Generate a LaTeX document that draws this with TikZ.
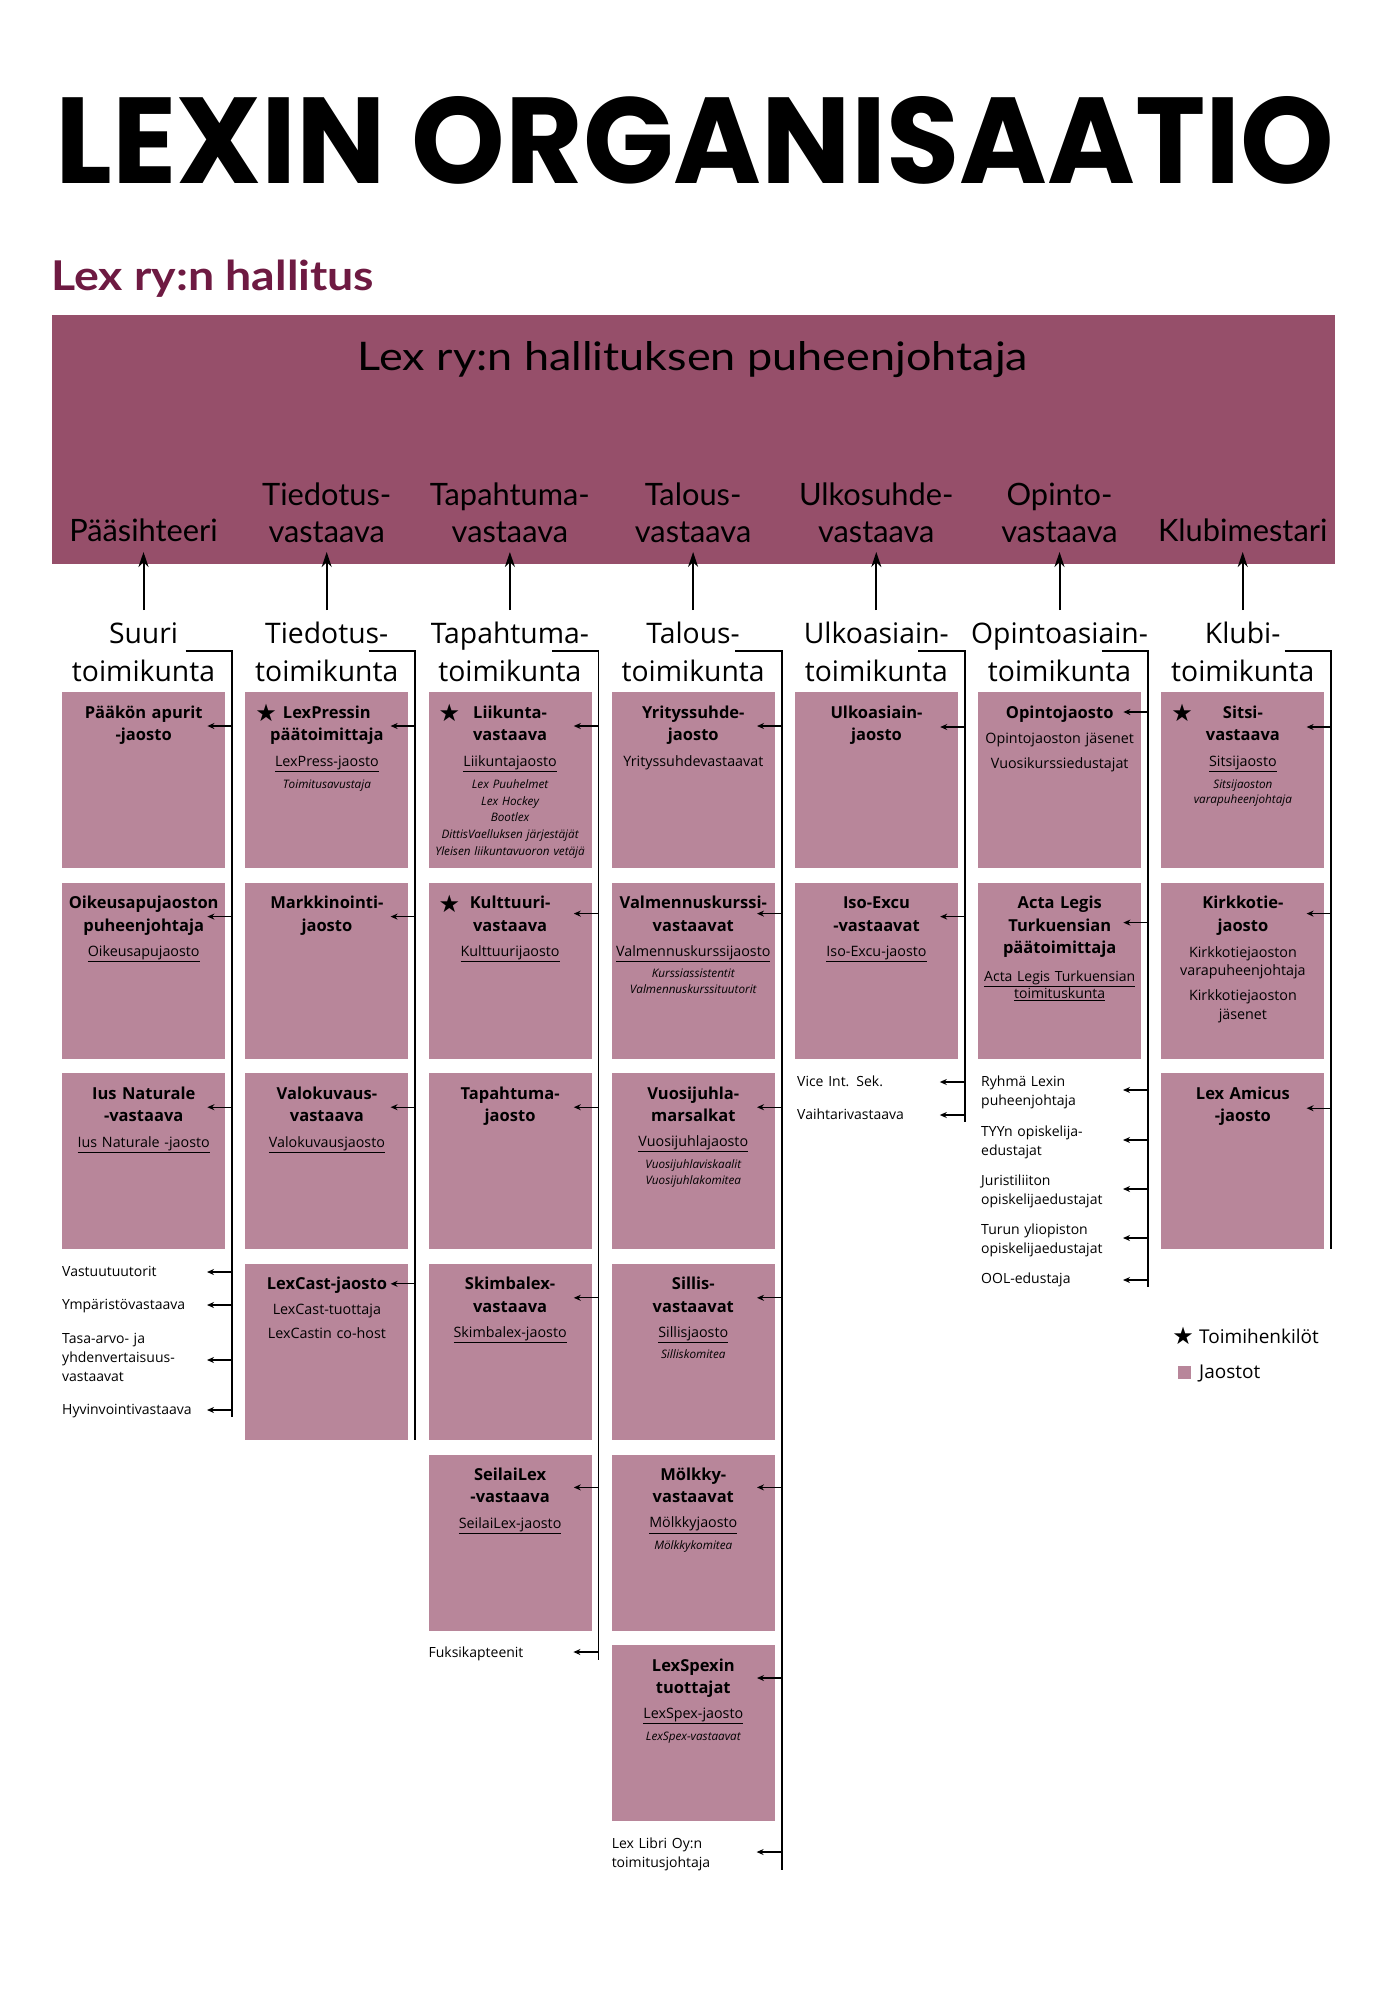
\documentclass[tikz,border=0pt]{standalone}
\usepackage{graphicx}
\usepackage{fontspec}
\setmainfont{Open Sans}
\newfontfamily\lato{Lato}
\newfontfamily\pop{Poppins}
\newfontfamily\dejavu{DejaVu Sans}
\usetikzlibrary{arrows.meta,calc}
\definecolor{boardc}{RGB}{150,79,106}
\definecolor{boxc}{RGB}{184,134,154}
\definecolor{subc}{RGB}{110,26,66}
\newcommand\und[1]{\underline{#1}}
\newcommand\jb[3]{\node[jbox] (#1) at (#2,#3) {};}
\newcommand\jt[4]{\node[#2] at ($(#1.north)+(0,#3)$) {#4};}
\newcommand\ja[2]{\draw[arr] ($(#1.north east)+(7,#2)$) -- ($(#1.north east)+(-18,#2)$);}
\newcommand\js[1]{\node[starnode] at ($(#1.north west)+(21,21)$) {★};}
\newcommand\fa[2]{\draw[arr] (#1,#2) -- ($(#1,#2)+(-25,0)$);}
\tikzset{
 jbox/.style={fill=boxc, minimum width=163pt, minimum height=176pt, inner sep=0pt, anchor=north west, draw=none},
 txt/.style={text width=175pt, align=center, inner sep=0pt, anchor=base},
 ttl/.style={txt, font=\bfseries\fontsize{16.5}{22.5}\selectfont},
 und/.style={txt, font=\fontsize{14.3}{15.5}\selectfont},
 itl/.style={txt, font=\itshape\fontsize{11.7}{16}\selectfont},
 reg/.style={txt, font=\fontsize{14.3}{18.7}\selectfont},
 free/.style={text width=170pt, align=left, inner sep=0pt, anchor=base west, font=\fontsize{14}{19}\selectfont},
 arr/.style={-{Stealth[length=7pt,width=6pt]}, line width=1.3pt},
 barr/.style={-{Stealth[length=15pt,width=10pt]}, line width=2pt},
 bus/.style={line width=1.8pt},
 starnode/.style={font=\dejavu\fontsize{24}{24}\selectfont, inner sep=0pt},
 kom/.style={text width=200pt, align=center, inner sep=0pt, anchor=base, font=\fontsize{28.3}{38.7}\selectfont},
 brd/.style={text width=180pt, align=center, inner sep=0pt, anchor=base, font=\lato\fontsize{30.8}{37}\selectfont},
}
\begin{document}
\begin{tikzpicture}[x=1pt,y=-1pt]
\useasboundingbox (0,0) rectangle (1390,2000);
\fill[white] (0,0) rectangle (1390,2000);
% headings
\node[anchor=base west, inner sep=0pt] (title) at (55,183.5) {\resizebox{1278pt}{87pt}{\pop\bfseries LEXIN ORGANISAATIO}};
\node[anchor=base west, inner sep=0pt, text=subc] (subt) at (51,290) {\resizebox{323pt}{30.5pt}{\lato\bfseries Lex ry:n hallitus}};
% board
\fill[boardc] (52,315) rectangle (1335,564);
\node[anchor=base, inner sep=0pt] (pj) at (693,370) {\resizebox{670pt}{29pt}{\lato Lex ry:n hallituksen puheenjohtaja}};
\node[brd] (v1) at (143.5,541) {Pääsihteeri};
\node[brd] (v2) at (326.7,505) {Tiedotus-\\vastaava};
\node[brd] (v3) at (509.9,505) {Tapahtuma-\\vastaava};
\node[brd] (v4) at (693.1,505) {Talous-\\vastaava};
\node[brd] (v5) at (876.3,505) {Ulkosuhde-\\vastaava};
\node[brd] (v6) at (1059.5,505) {Opinto-\\vastaava};
\node[brd] (v7) at (1242.7,541) {Klubimestari};
% committees
\node[kom] (k1) at (143.5,643) {Suuri\\toimikunta};
\node[kom] (k2) at (326.7,643) {Tiedotus-\\toimikunta};
\node[kom] (k3) at (509.9,643) {Tapahtuma-\\toimikunta};
\node[kom] (k4) at (693.1,643) {Talous-\\toimikunta};
\node[kom] (k5) at (876.3,643) {Ulkoasiain-\\toimikunta};
\node[kom] (k6) at (1059.5,643) {Opintoasiain-\\toimikunta};
\node[kom] (k7) at (1242.7,643) {Klubi-\\toimikunta};
\foreach \c in {143.5,326.7,509.9,693.1,876.3,1059.5,1242.7}{
  \draw[barr] (\c,610) -- (\c,552);
}
% buses
\draw[bus] (185.5,651) -| (232,1417);
\draw[bus] (368.7,651) -| (415.2,1440);
\draw[bus] (551.9,651) -| (598.4,1660);
\draw[bus] (735.1,651) -| (781.6,1870);
\draw[bus] (918.3,651) -| (964.8,1122);
\draw[bus] (1101.5,651) -| (1148,1287);
\draw[bus] (1284.7,651) -| (1331.2,1249.2);
% ---- column 1
\jb{s1}{62}{692} \jt{s1}{ttl}{26}{Pääkön apurit\\-jaosto} \ja{s1}{34}
\jb{s2}{62}{882.6} \jt{s2}{ttl}{26}{Oikeusapujaoston\\puheenjohtaja} \jt{s2}{und}{74}{\und{Oikeusapujaosto}} \ja{s2}{34}
\jb{s3}{62}{1073.2} \jt{s3}{ttl}{26}{Ius Naturale\\-vastaava} \jt{s3}{und}{74}{\und{Ius Naturale -jaosto}} \ja{s3}{34}
\node[free] (f11) at (62,1276) {Vastuutuutorit}; \fa{232}{1272}
\node[free] (f12) at (62,1309) {Ympäristövastaava}; \fa{232}{1305}
\node[free] (f13) at (62,1343) {Tasa-arvo- ja\\yhdenvertaisuus-\\vastaavat}; \fa{232}{1360}
\node[free] (f14) at (62,1414) {Hyvinvointivastaava}; \fa{232}{1410}
% ---- column 2
\jb{t1}{245.2}{692} \js{t1} \jt{t1}{ttl}{26}{LexPressin\\päätoimittaja} \jt{t1}{und}{74}{\und{LexPress-jaosto}} \jt{t1}{itl}{96}{Toimitusavustaja} \ja{t1}{34}
\jb{t2}{245.2}{882.6} \jt{t2}{ttl}{26}{Markkinointi-\\jaosto} \ja{t2}{34}
\jb{t3}{245.2}{1073.2} \jt{t3}{ttl}{26}{Valokuvaus-\\vastaava} \jt{t3}{und}{74}{\und{Valokuvausjaosto}} \ja{t3}{34}
\jb{t4}{245.2}{1263.8} \jt{t4}{ttl}{26}{LexCast-jaosto} \jt{t4}{reg}{51}{LexCast-tuottaja} \jt{t4}{reg}{75}{LexCastin co-host} \ja{t4}{20}
% ---- column 3
\jb{p1}{428.4}{692} \js{p1} \jt{p1}{ttl}{26}{Liikunta-\\vastaava} \jt{p1}{und}{74}{\und{Liikuntajaosto}}
  \node[itl, font=\itshape\fontsize{11.7}{16.7}\selectfont] at ($(p1.north)+(0,96.5)$) {Lex Puuhelmet\\Lex Hockey\\Bootlex\\DittisVaelluksen järjestäjät\\Yleisen liikuntavuoron vetäjä}; \ja{p1}{34}
\jb{p2}{428.4}{882.6} \js{p2} \jt{p2}{ttl}{26}{Kulttuuri-\\vastaava} \jt{p2}{und}{74}{\und{Kulttuurijaosto}} \ja{p2}{31}
\jb{p3}{428.4}{1073.2} \jt{p3}{ttl}{26}{Tapahtuma-\\jaosto} \ja{p3}{34}
\jb{p4}{428.4}{1263.8} \jt{p4}{ttl}{26}{Skimbalex-\\vastaava} \jt{p4}{und}{74}{\und{Skimbalex-jaosto}} \ja{p4}{34}
\jb{p5}{428.4}{1454.4} \jt{p5}{ttl}{26}{SeilaiLex\\-vastaava} \jt{p5}{und}{74}{\und{SeilaiLex-jaosto}} \ja{p5}{33}
\node[free] (f31) at (428.4,1657) {Fuksikapteenit}; \fa{598.4}{1652}
% ---- column 4
\jb{r1}{611.6}{692} \jt{r1}{ttl}{26}{Yrityssuhde-\\jaosto} \jt{r1}{reg}{74}{Yrityssuhdevastaavat} \ja{r1}{34}
\jb{r2}{611.6}{882.6} \jt{r2}{ttl}{26}{Valmennuskurssi-\\vastaavat} \jt{r2}{und}{73.5}{\und{Valmennuskurssijaosto}} \jt{r2}{itl}{95}{Kurssiassistentit\\Valmennuskurssituutorit} \ja{r2}{31}
\jb{r3}{611.6}{1073.2} \jt{r3}{ttl}{26}{Vuosijuhla-\\marsalkat} \jt{r3}{und}{73.5}{\und{Vuosijuhlajaosto}} \jt{r3}{itl}{95.5}{Vuosijuhlaviskaalit\\Vuosijuhlakomitea} \ja{r3}{34}
\jb{r4}{611.6}{1263.8} \jt{r4}{ttl}{26}{Sillis-\\vastaavat} \jt{r4}{und}{73.5}{\und{Sillisjaosto}} \jt{r4}{itl}{95}{Silliskomitea} \ja{r4}{34}
\jb{r5}{611.6}{1454.4} \jt{r5}{ttl}{26}{Mölkky-\\vastaavat} \jt{r5}{und}{73.5}{\und{Mölkkyjaosto}} \jt{r5}{itl}{95}{Mölkkykomitea} \ja{r5}{33}
\jb{r6}{611.6}{1645} \jt{r6}{ttl}{26}{LexSpexin\\tuottajat} \jt{r6}{und}{73.5}{\und{LexSpex-jaosto}} \jt{r6}{itl}{95}{LexSpex-vastaavat} \ja{r6}{33}
\node[free] (f41) at (611.6,1848) {Lex Libri Oy:n\\toimitusjohtaja}; \fa{781.6}{1852}
% ---- column 5
\jb{u1}{794.8}{692} \jt{u1}{ttl}{26}{Ulkoasiain-\\jaosto} \ja{u1}{35}
\jb{u2}{794.8}{882.6} \jt{u2}{ttl}{26}{Iso-Excu\\-vastaavat} \jt{u2}{und}{74}{\und{Iso-Excu-jaosto}} \ja{u2}{34}
\node[free] (f51) at (797,1086) {Vice Int. Sek.}; \fa{964.8}{1082}
\node[free] (f52) at (797,1119) {Vaihtarivastaava}; \fa{964.8}{1115}
% ---- column 6
\jb{o1}{978}{692} \jt{o1}{ttl}{26}{Opintojaosto} \jt{o1}{reg}{51}{Opintojaoston jäsenet} \jt{o1}{reg}{76}{Vuosikurssiedustajat} \ja{o1}{20}
\jb{o2}{978}{882.6} \jt{o2}{ttl}{26}{Acta Legis\\Turkuensian\\päätoimittaja} \node[und, font=\fontsize{14}{15}\selectfont] at ($(o2.north)+(0,99)$) {\und{Acta Legis Turkuensian}\\\und{toimituskunta}}; \ja{o2}{40}
\node[free] (f61) at (981,1086.5) {Ryhmä Lexin\\puheenjohtaja}; \fa{1148}{1090}
\node[free] (f62) at (981,1136) {TYYn opiskelija-\\edustajat}; \fa{1148}{1140}
\node[free] (f63) at (981,1185) {Juristiliiton\\opiskelijaedustajat}; \fa{1148}{1189}
\node[free] (f64) at (981,1234) {Turun yliopiston\\opiskelijaedustajat}; \fa{1148}{1238}
\node[free] (f65) at (981,1283) {OOL-edustaja}; \fa{1148}{1280}
% ---- column 7
\jb{q1}{1161.2}{692} \js{q1} \jt{q1}{ttl}{26}{Sitsi-\\vastaava} \jt{q1}{und}{74}{\und{Sitsijaosto}} \node[itl, font=\itshape\fontsize{11.7}{15}\selectfont] at ($(q1.north)+(0,96)$) {Sitsijaoston\\varapuheenjohtaja}; \ja{q1}{35}
\jb{q2}{1161.2}{882.6} \jt{q2}{ttl}{26}{Kirkkotie-\\jaosto} \jt{q2}{reg}{74.6}{Kirkkotiejaoston\\varapuheenjohtaja} \jt{q2}{reg}{118}{Kirkkotiejaoston\\jäsenet} \ja{q2}{31}
\jb{q3}{1161.2}{1073.2} \jt{q3}{ttl}{26}{Lex Amicus\\-jaosto} \ja{q3}{35}
% legend
\node[starnode] (lstar) at (1183,1336) {★};
\node[anchor=base west, inner sep=0pt, font=\fontsize{19}{19}\selectfont] (ltxt1) at (1199,1343) {Toimihenkilöt};
\node[fill=boxc, minimum width=13pt, minimum height=13pt, inner sep=0pt] (lsq) at (1184,1372) {};
\node[anchor=base west, inner sep=0pt, font=\fontsize{19}{19}\selectfont] (ltxt2) at (1199,1378) {Jaostot};
\end{tikzpicture}
\end{document}
